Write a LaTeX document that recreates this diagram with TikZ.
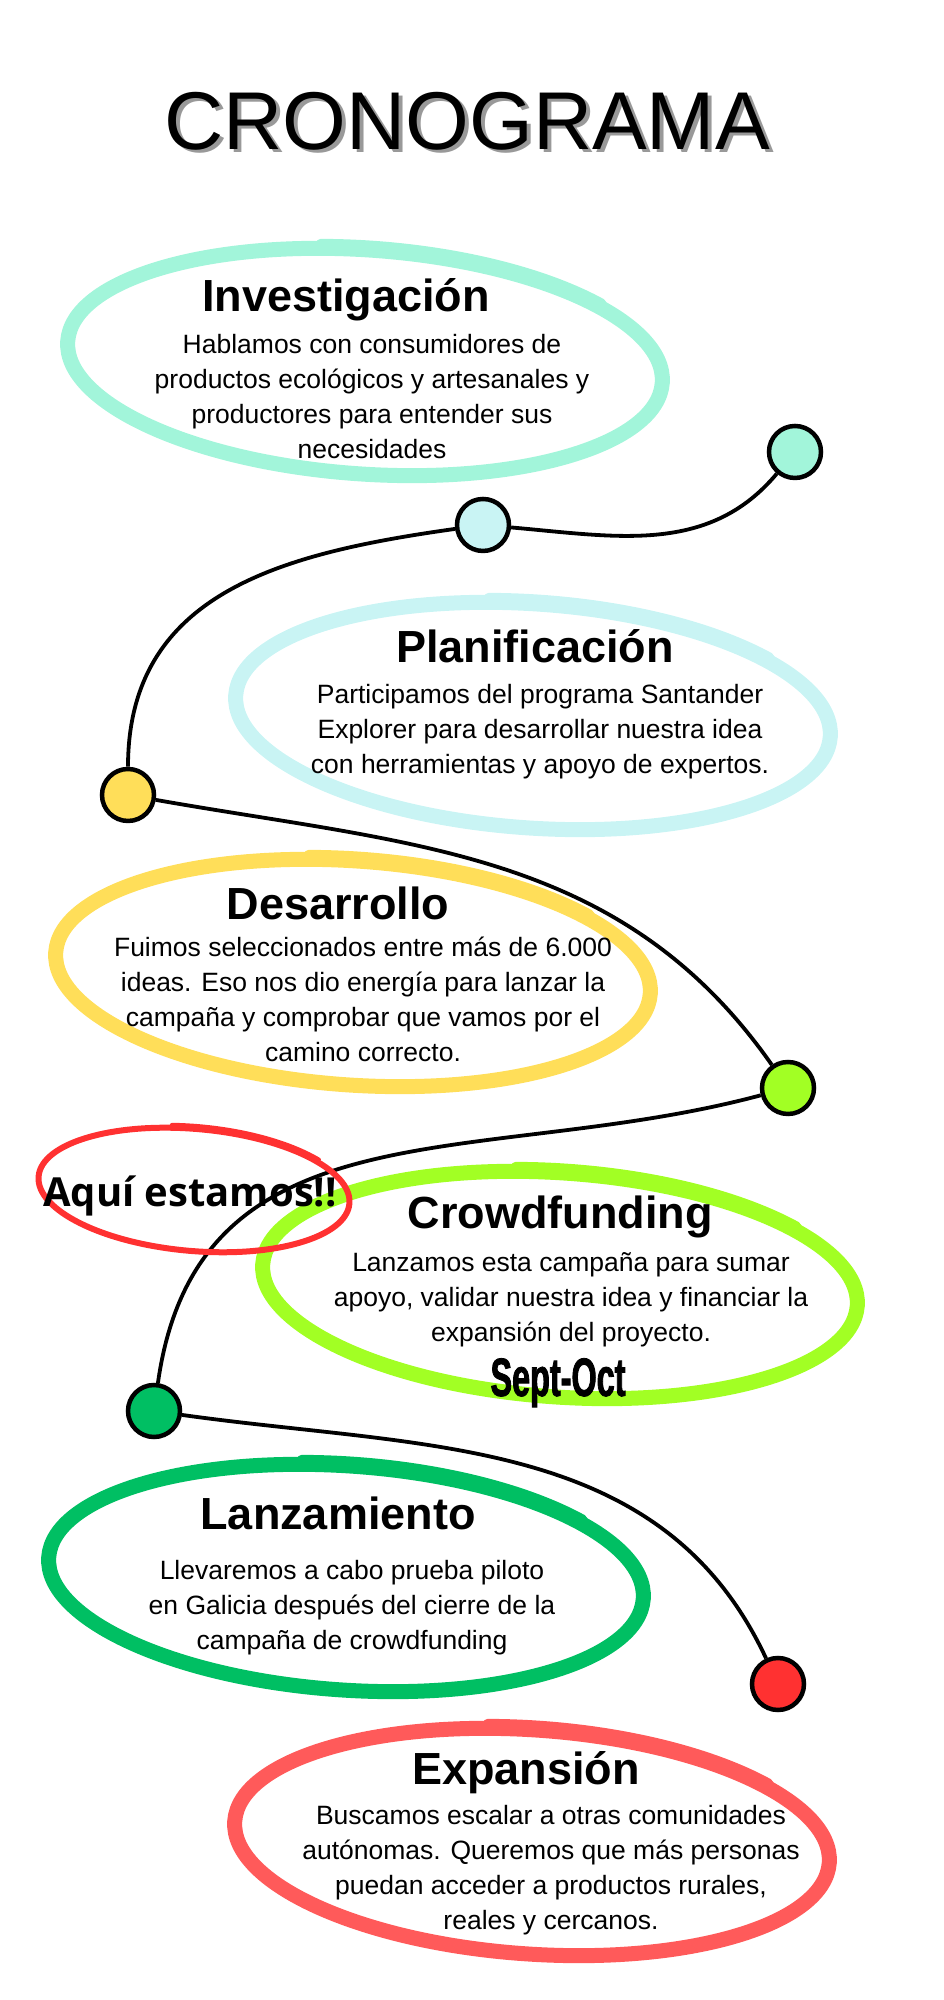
\documentclass[tikz,border=0pt]{standalone}
\usepackage{fontspec}
\setmainfont{Liberation Sans}
\newfontfamily\aquifont{Open Sans}
\newfontfamily\septfont{Liberation Sans}[FakeStretch=0.6, BoldFeatures={FakeBold=1.5}]
\definecolor{mint}{HTML}{A2F5DA}
\definecolor{skyblue}{HTML}{C9F4F4}
\definecolor{sunny}{HTML}{FFDE59}
\definecolor{lime}{HTML}{A2FF24}
\definecolor{leaf}{HTML}{00BF63}
\definecolor{coral}{HTML}{FF5A5A}
\definecolor{alert}{HTML}{FF3131}
\newcommand{\shadowed}[1]{\makebox[0pt][l]{\hspace{4pt}\raisebox{-3pt}{\color{black!40}#1}}#1}
\tikzset{
  dot/.style={circle, draw=black, line width=4.5pt, minimum size=52pt, inner sep=0pt},
  path line/.style={line width=3.8pt},
  ring/.style={line width=15pt},
  tail/.style={line width=9pt, line cap=round},
  heading/.style={font=\bfseries\fontsize{45}{54}\selectfont, anchor=base},
  body/.style={font=\fontsize{26.5}{35}\selectfont, align=center},
}
\begin{document}
\begin{tikzpicture}[x=1pt, y=1pt]
  \useasboundingbox (0,0) rectangle (943,2000);
  % title
  \node[font=\fontsize{82}{90}\selectfont, anchor=base] (title) at (467,1850) {\shadowed{CRONOGRAMA}};
  % timeline dots
  \node[dot, fill=mint] (inv) at (795,1548) {};
  \node[dot, fill=skyblue] (pla) at (483,1475) {};
  \node[dot, fill=sunny] (des) at (128,1205) {};
  \node[dot, fill=lime] (cro) at (788,912) {};
  \node[dot, fill=leaf] (lan) at (154,589) {};
  \node[dot, fill=alert] (exp) at (778,316) {};
  \begin{scope}[path line]
    \draw (inv) to[out=230, in=-5] (pla);
    \draw (pla) to[out=188, in=90, looseness=1.1] (des);
    \draw (des) to[out=-10, in=125] (cro);
    \draw (cro) to[out=195, in=82, looseness=1.1] (lan);
    \draw (lan) to[out=-8, in=115] (exp);
  \end{scope}
  % brush rings
  \foreach \cx/\cy/\col in {365/1638/mint, 533/1284/skyblue, 353/1027/sunny,
                            560/715/lime, 346/422/leaf, 532/158/coral} {
    \begin{scope}[shift={(\cx,\cy)}, rotate=-4]
      \draw[ring, \col] (0,0) ellipse [x radius=298, y radius=112];
      \draw[tail, \col] (100:303 and 117) arc [start angle=100, end angle=40, x radius=303, y radius=117];
    \end{scope}
  }
  \begin{scope}[shift={(194,810)}, rotate=-5]
    \draw[alert, line width=6pt] (0,0) ellipse [x radius=156, y radius=61];
    \draw[alert, line width=4pt, line cap=round] (100:159 and 64) arc [start angle=100, end angle=40, x radius=159, y radius=64];
  \end{scope}
  % texts
  \node[heading] (invt) at (346,1688) {Investigación};
  \node[body] (invb) at (372,1603) {Hablamos con consumidores de\\productos ecológicos y artesanales y\\productores para entender sus\\necesidades};
  \node[heading] (plat) at (535,1337) {Planificación};
  \node[body] (plab) at (540,1268) {Participamos del programa Santander\\Explorer para desarrollar nuestra idea\\con herramientas y apoyo de expertos.};
  \node[heading] (dest) at (338,1080) {Desarrollo};
  \node[body] (desb) at (363,1001) {Fuimos seleccionados entre más de 6.000\\ideas. Eso nos dio energía para lanzar la\\campaña y comprobar que vamos por el\\camino correcto.};
  \node[anchor=base, font=\aquifont\bfseries\fontsize{40}{46}\selectfont] (aqui) at (190,793) {Aquí estamos!!};
  \node[heading] (crot) at (560,771) {Crowdfunding};
  \node[body] (crob) at (571,700) {Lanzamos esta campaña para sumar\\apoyo, validar nuestra idea y financiar la\\expansión del proyecto.};
  \node[anchor=base, font=\septfont\bfseries\fontsize{54}{60}\selectfont] (sept) at (558,604) {Sept-Oct};
  \node[heading] (lant) at (338,470) {Lanzamiento};
  \node[body] (lanb) at (352,392) {Llevaremos a cabo prueba piloto\\en Galicia después del cierre de la\\campaña de crowdfunding};
  \node[heading] (expt) at (526,215) {Expansión};
  \node[body] (expb) at (551,130) {Buscamos escalar a otras comunidades\\autónomas. Queremos que más personas\\puedan acceder a productos rurales,\\reales y cercanos.};
\end{tikzpicture}
\end{document}
